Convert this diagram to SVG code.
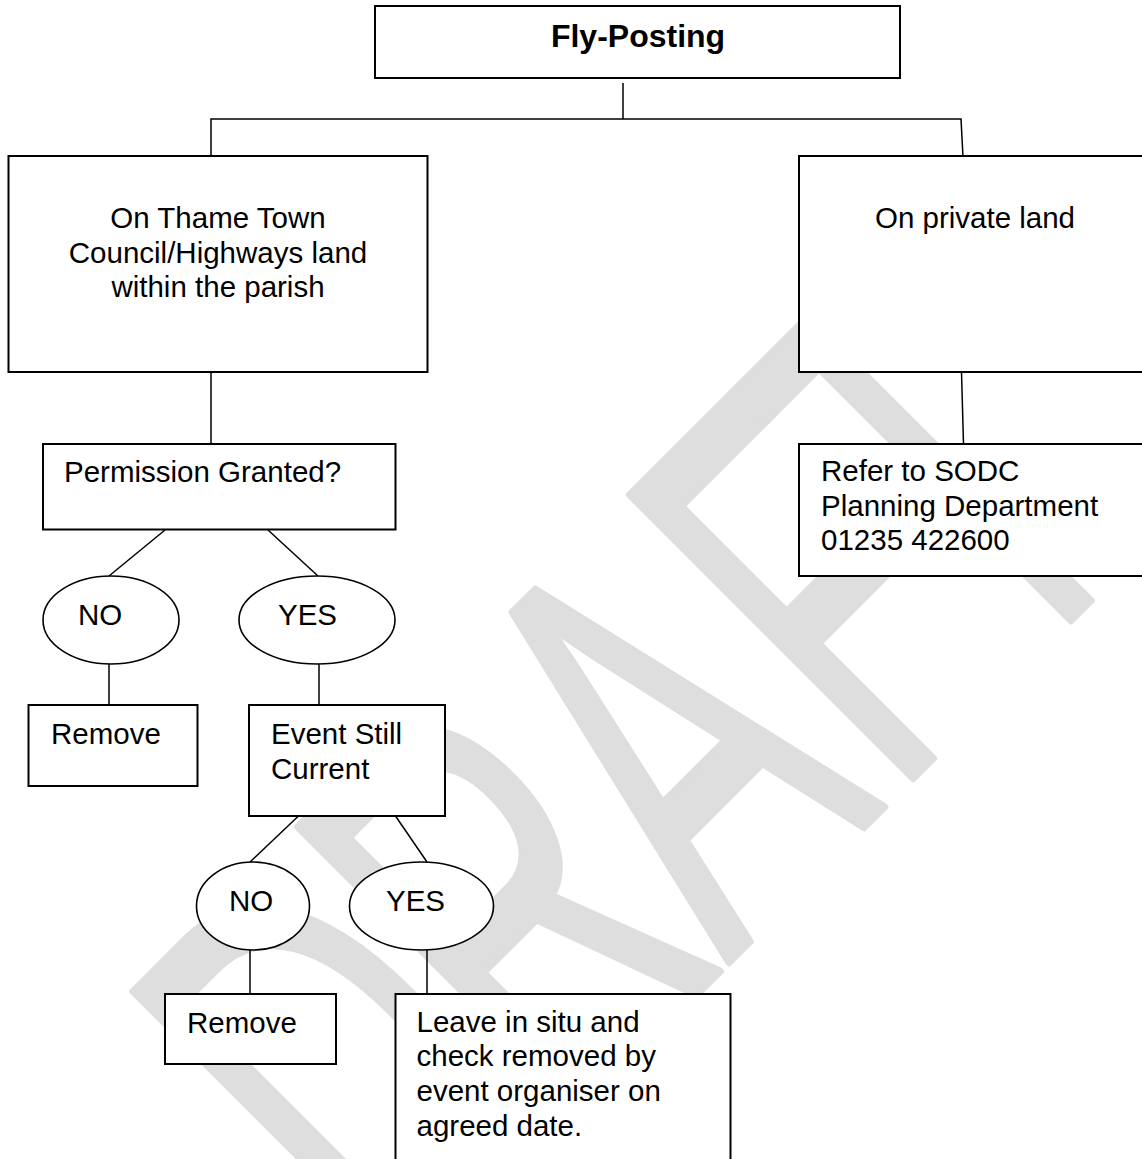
<svg xmlns="http://www.w3.org/2000/svg" width="1142" height="1159" viewBox="0 0 1142 1159">
<style>
.box{fill:#fff;stroke:#000;stroke-width:2}
.ell{fill:#fff;stroke:#000;stroke-width:1.6}
.con{fill:none;stroke:#000;stroke-width:1.5}
.t{font-family:"Liberation Sans",Arial,sans-serif;font-size:29.5px;fill:#000}
.tc{text-anchor:middle}
.b{font-weight:bold;font-size:32px}
.wm{font-family:"Liberation Sans",Arial,sans-serif;font-size:400px;fill:#dedede;stroke:#dedede;stroke-width:6;stroke-linejoin:round}
</style>
<rect width="1142" height="1159" fill="#fff"/>
<g id="watermark">
<text class="wm" transform="translate(845.7 845.7) rotate(-45) scale(0.84 1.456)" x="-757 -480 -199 79 274" y="0" vector-effect="non-scaling-stroke">DRAFT</text>
</g>
<g id="connectors">
<line class="con" x1="623" y1="83" x2="623" y2="119"/>
<polyline class="con" points="211,157 211,119 961,119 963,157"/>
<line class="con" x1="211" y1="372" x2="211" y2="444"/>
<line class="con" x1="961.5" y1="372" x2="963.5" y2="444"/>
<line class="con" x1="165" y1="530" x2="109" y2="576"/>
<line class="con" x1="268" y1="530" x2="318" y2="576"/>
<line class="con" x1="109" y1="664" x2="109" y2="705"/>
<line class="con" x1="319" y1="664" x2="319" y2="705"/>
<line class="con" x1="298.5" y1="816" x2="250" y2="862"/>
<line class="con" x1="395.5" y1="816" x2="427" y2="862"/>
<line class="con" x1="250" y1="950" x2="250" y2="994"/>
<line class="con" x1="427" y1="950" x2="427" y2="994"/>
</g>
<g id="fly-posting">
<rect class="box" x="375" y="6" width="525" height="72"/>
<text class="t b tc" x="638" y="47">Fly-Posting</text>
</g>
<g id="thame-land">
<rect class="box" x="8.5" y="156" width="419" height="216"/>
<text class="t tc" x="218" y="228">On Thame Town</text>
<text class="t tc" x="218" y="262.5">Council/Highways land</text>
<text class="t tc" x="218" y="297">within the parish</text>
</g>
<g id="private-land">
<rect class="box" x="799" y="156" width="360" height="216"/>
<text class="t tc" x="975" y="228">On private land</text>
</g>
<g id="permission">
<rect class="box" x="43" y="444" width="352.5" height="85.5"/>
<text class="t" x="64" y="482">Permission Granted?</text>
</g>
<g id="refer-sodc">
<rect class="box" x="799" y="444" width="360" height="132"/>
<text class="t" x="821" y="481">Refer to SODC</text>
<text class="t" x="821" y="515.5">Planning Department</text>
<text class="t" x="821" y="550">01235 422600</text>
</g>
<g id="no-1">
<ellipse class="ell" cx="111" cy="620" rx="68" ry="44"/>
<text class="t" x="78" y="625">NO</text>
</g>
<g id="yes-1">
<ellipse class="ell" cx="317" cy="620" rx="78" ry="44"/>
<text class="t" x="278" y="625">YES</text>
</g>
<g id="remove-1">
<rect class="box" x="28.5" y="705" width="169" height="81"/>
<text class="t" x="51" y="744">Remove</text>
</g>
<g id="event-current">
<rect class="box" x="249" y="705" width="196" height="111"/>
<text class="t" x="271" y="744">Event Still</text>
<text class="t" x="271" y="779">Current</text>
</g>
<g id="no-2">
<ellipse class="ell" cx="253" cy="906" rx="56.5" ry="44"/>
<text class="t" x="229" y="910.5">NO</text>
</g>
<g id="yes-2">
<ellipse class="ell" cx="421.5" cy="906" rx="72" ry="44"/>
<text class="t" x="386" y="910.5">YES</text>
</g>
<g id="remove-2">
<rect class="box" x="165" y="994" width="171" height="70"/>
<text class="t" x="187" y="1033">Remove</text>
</g>
<g id="leave-in-situ">
<rect class="box" x="395.5" y="994" width="335" height="190"/>
<text class="t" x="416.5" y="1031.5">Leave in situ and</text>
<text class="t" x="416.5" y="1066">check removed by</text>
<text class="t" x="416.5" y="1101">event organiser on</text>
<text class="t" x="416.5" y="1136">agreed date.</text>
</g>
</svg>
